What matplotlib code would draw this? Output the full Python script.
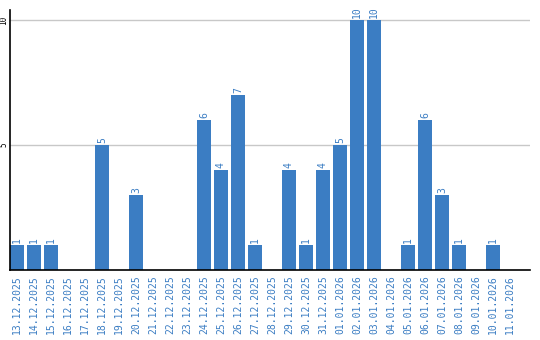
import matplotlib.pyplot as plt
import numpy as np

dates = ["13.12.2025", "14.12.2025", "15.12.2025", "16.12.2025", "17.12.2025",
         "18.12.2025", "19.12.2025", "20.12.2025", "21.12.2025", "22.12.2025",
         "23.12.2025", "24.12.2025", "25.12.2025", "26.12.2025", "27.12.2025",
         "28.12.2025", "29.12.2025", "30.12.2025", "31.12.2025", "01.01.2026",
         "02.01.2026", "03.01.2026", "04.01.2026", "05.01.2026", "06.01.2026",
         "07.01.2026", "08.01.2026", "09.01.2026", "10.01.2026", "11.01.2026"]
counts = [1, 1, 1, 0, 0, 5, 0, 3, 0, 0,
          0, 6, 4, 7, 1, 0, 4, 1, 4, 5,
          10, 10, 0, 1, 6, 3, 1, 0, 1, 0]

BLUE = "#3b7dc3"
FONT = "DejaVu Sans Mono"

fig = plt.figure(figsize=(5.4, 3.4), dpi=100)
ax = fig.add_axes([10/540, 1 - 270/340, 520/540, 260/340])

x = np.arange(len(dates))
bar_w = 14/17
ax.bar(x, counts, width=bar_w, align="edge", color=BLUE, zorder=2)

for xi, c in zip(x, counts):
    if c > 0:
        ax.text(xi + bar_w/2, c + 0.08, str(c), rotation=90, ha="center", va="bottom",
                color=BLUE, fontsize=7, family=FONT)

ax.set_xlim(0, 520/17)
ax.set_ylim(0, 10.4)
ax.set_yticks([5, 10])
ax.set_yticklabels(["5", "10"], rotation=90, va="center", fontsize=5.5, family=FONT)
ax.set_xticks(x + bar_w/2)
ax.set_xticklabels(dates, rotation=90, color=BLUE, fontsize=7, family=FONT)
ax.tick_params(length=0, pad=4)
ax.tick_params(axis="y", pad=1)
ax.grid(axis="y", color="#c8c8c8", linewidth=1, zorder=0)
for s in ["top", "right"]:
    ax.spines[s].set_visible(False)
ax.spines["left"].set_linewidth(1.2)
ax.spines["bottom"].set_linewidth(1.2)

fig.savefig("out.png", dpi=100)
